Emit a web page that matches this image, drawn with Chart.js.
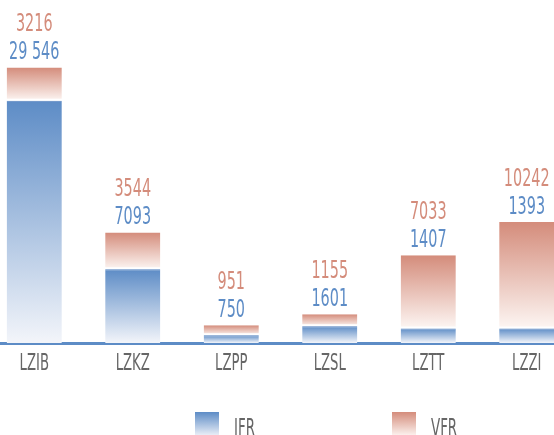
<!DOCTYPE html>
<html>
<head>
<meta charset="utf-8">
<script src="https://cdn.jsdelivr.net/npm/chart.js@4"></script>
<style>
    html, body { margin: 0; padding: 0; background: #fff; overflow: hidden; width: 554px; height: 435px; }
    .chartBox { position: absolute; left: -15px; top: 0; width: 591px; height: 435px; }
    .legend { position: absolute; top: 412px; font-family: 'DejaVu Sans Condensed', 'DejaVu Sans', sans-serif; font-size: 24px; color: #666; }
    .legend span.box { position: absolute; left: 0; top: 0; width: 24px; height: 24px; }
    .legend span.txt { position: absolute; left: 39px; top: 4px; line-height: 24px; transform: scaleX(0.62); transform-origin: left top; white-space: nowrap; }
</style>
</head>
<body>
<div class="chartBox"><canvas id="canvas"></canvas></div>
<div class="legend" style="left:195px"><span class="box" style="background:linear-gradient(#5d8cc6,#eef1f8)"></span><span class="txt">IFR</span></div>
<div class="legend" style="left:392px"><span class="box" style="background:linear-gradient(#d48c7b,#fdf4f1)"></span><span class="txt">VFR</span></div>
<script>
const airports = ['LZIB', 'LZKZ', 'LZPP', 'LZSL', 'LZTT', 'LZZI']
const ifrValues = [29546, 7093, 750, 1601, 1407, 1393]
const vfrValues = [3216, 3544, 951, 1155, 7033, 10242]
const ifrLabels = ['29 546', '7093', '750', '1601', '1407', '1393']
const vfrLabels = ['3216', '3544', '951', '1155', '7033', '10242']

// the original cuts the LZIB bar short (broken bar), so cap the drawn IFR height
const ifrCap = 23300
const ifrDrawn = ifrValues.map(v => Math.min(v, ifrCap))

const fontFamily = "'DejaVu Sans Condensed', 'DejaVu Sans', sans-serif"
const squeeze = 0.64
const blue = '#5d8cc6'
const salmon = '#d48c7b'

const gradientFor = (ctx, from, to, topColor, bottomColor) => {
    const chart = ctx.chart
    if (!chart.chartArea || ctx.dataIndex === undefined) return topColor
    const y = chart.scales.y
    const i = ctx.dataIndex
    const top = y.getPixelForValue(to(i))
    const bottom = y.getPixelForValue(from(i))
    if (!isFinite(top) || !isFinite(bottom) || top === bottom) return topColor
    const g = chart.ctx.createLinearGradient(0, top, 0, bottom)
    g.addColorStop(0, topColor)
    g.addColorStop(1, bottomColor)
    return g
}

// narrow text, the original uses a condensed face
const narrowText = (ctx, text, x, y) => {
    ctx.save()
    ctx.scale(squeeze, 1)
    ctx.fillText(text, x / squeeze, y)
    ctx.restore()
}

const valueLabels = {
    id: 'valueLabels',
    afterDatasetsDraw: chart => {
        const ctx = chart.ctx
        const meta = chart.getDatasetMeta(1)
        ctx.save()
        ctx.textAlign = 'center'
        ctx.textBaseline = 'alphabetic'
        ctx.font = `25px ${fontFamily}`
        meta.data.forEach((bar, i) => {
            ctx.fillStyle = blue
            narrowText(ctx, ifrLabels[i], bar.x, bar.y - 8)
            ctx.fillStyle = salmon
            narrowText(ctx, vfrLabels[i], bar.x, bar.y - 36)
        })
        // category names under the axis
        ctx.font = `23px ${fontFamily}`
        ctx.fillStyle = '#666'
        const xs = chart.scales.x
        airports.forEach((name, i) => {
            narrowText(ctx, name, xs.getPixelForValue(i), chart.chartArea.bottom + 27)
        })
        ctx.restore()
    }
}

const ctx = document.querySelector('#canvas').getContext('2d')
const myChart = new Chart(ctx, {
    type: 'bar',
    data: {
        labels: airports,
        datasets: [{
            label: 'IFR',
            data: ifrDrawn,
            backgroundColor: c => gradientFor(c, i => 0, i => ifrDrawn[i], blue, '#f3f5fa'),
            borderColor: '#4f7fbd',
            borderWidth: { top: 1, bottom: 0, left: 0, right: 0 },
            borderSkipped: false,
            categoryPercentage: 0.56,
            barPercentage: 1
        }, {
            label: 'VFR',
            data: vfrValues,
            backgroundColor: c => gradientFor(c, i => ifrDrawn[i], i => ifrDrawn[i] + vfrValues[i], salmon, '#fdf6f3'),
            borderColor: '#ffffff',
            borderWidth: { top: 0, bottom: 2, left: 0, right: 0 },
            borderSkipped: false,
            categoryPercentage: 0.56,
            barPercentage: 1
        }]
    },
    options: {
        responsive: true,
        maintainAspectRatio: false,
        animation: false,
        layout: { padding: { top: 0, bottom: 84, left: 0, right: 0 } },
        plugins: {
            legend: { display: false },
            tooltip: { enabled: false }
        },
        scales: {
            x: {
                stacked: true,
                grid: { display: false },
                border: { display: true, color: blue, width: 3 },
                ticks: { display: false }
            },
            y: {
                stacked: true,
                display: false,
                min: 0,
                max: 33000
            }
        }
    },
    plugins: [valueLabels]
})
</script>
</body>
</html>
